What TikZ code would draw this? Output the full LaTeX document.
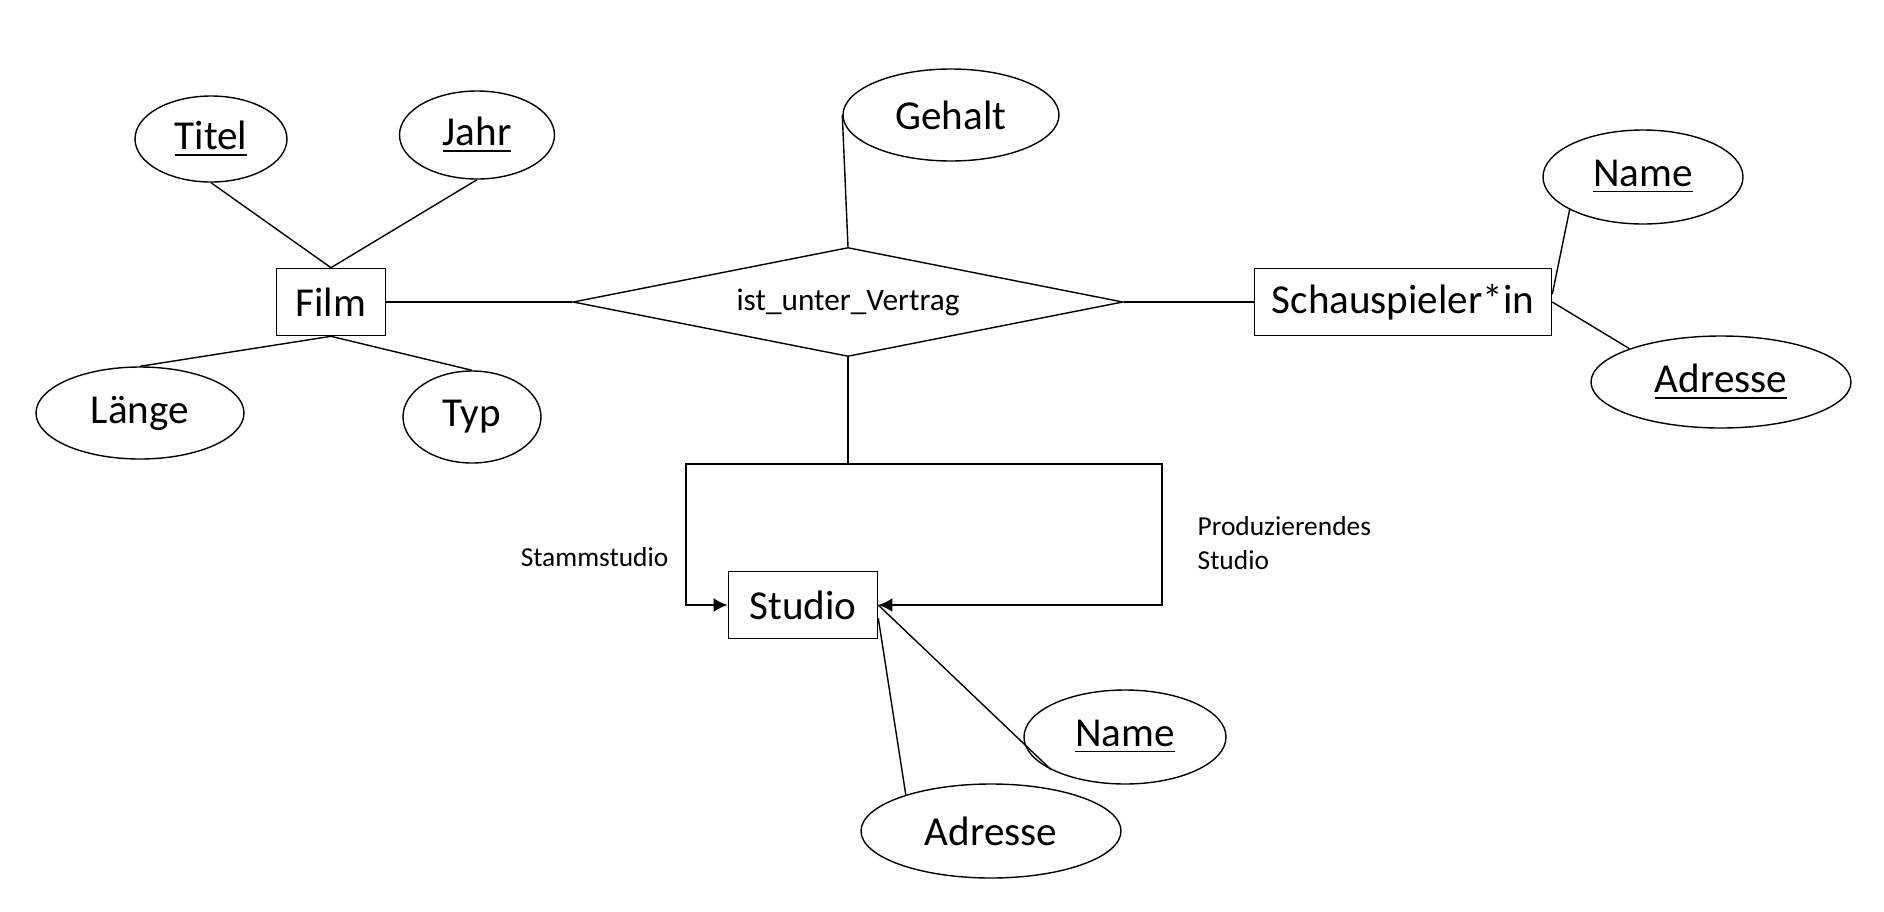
\documentclass[tikz,border=0pt]{standalone}
\usepackage{fontspec}
\setmainfont{Carlito}
\usepackage{tikz}
\usetikzlibrary{shapes.geometric, arrows.meta, positioning, calc}
\newcommand{\erfont}{\fontsize{11.7}{14}\selectfont}
\newcommand{\relfont}{\fontsize{8.9}{10.8}\selectfont}
\newcommand{\rolefont}{\fontsize{7.8}{9.6}\selectfont}
\tikzstyle{entity} = [rectangle, draw, line width=0.45pt, minimum height=0.67cm, inner sep=0pt, text centered, font=\erfont]
\tikzstyle{attr} = [ellipse, draw, line width=0.4pt, inner sep=0pt, text centered, font=\erfont]
\tikzstyle{relation} = [diamond, draw, line width=0.4pt, aspect=5, inner sep=1pt, minimum width=5.5cm, minimum height=1.09cm, font=\relfont]
\tikzstyle{link} = [line width=0.4pt]
\tikzstyle{arrow} = [line width=0.7pt, -{Latex[length=4pt,width=4pt]}]
\tikzstyle{role} = [font=\rolefont, inner sep=0pt, align=left]

\begin{document}
\begin{tikzpicture}
    \useasboundingbox (0,0) rectangle (18.84,-9.12);

    % Entities and relation
    \node[entity, minimum width=1.09cm] (film) at (3.31,-3.02) {Film};
    \node[relation] (vertrag) at (8.48,-3.02) {ist\_unter\_Vertrag};
    \node[entity, minimum width=2.97cm] (actor) at (14.03,-3.02) {Schauspieler*in};
    \node[entity, minimum width=1.49cm] (studio) at (8.03,-6.05) {Studio};

    % Attributes of Film
    \node[attr, minimum width=1.52cm, minimum height=0.86cm] (titel) at (2.11,-1.39) {\underline{Titel}};
    \node[attr, minimum width=1.55cm, minimum height=0.88cm] (jahr) at (4.77,-1.35) {\underline{Jahr}};
    \node[attr, minimum width=2.08cm, minimum height=0.92cm] (laenge) at (1.40,-4.13) {Länge};
    \node[attr, minimum width=1.38cm, minimum height=0.92cm] (typ) at (4.72,-4.17) {Typ};

    % Attribute of the relation
    \node[attr, minimum width=2.16cm, minimum height=0.92cm] (gehalt) at (9.51,-1.15) {Gehalt};

    % Attributes of Schauspieler*in
    \node[attr, minimum width=2.00cm, minimum height=0.94cm] (aname) at (16.43,-1.77) {\underline{Name}};
    \node[attr, minimum width=2.60cm, minimum height=0.92cm] (aadresse) at (17.21,-3.82) {\underline{Adresse}};

    % Attributes of Studio
    \node[attr, minimum width=2.02cm, minimum height=0.94cm] (sname) at (11.25,-7.37) {\underline{Name}};
    \node[attr, minimum width=2.60cm, minimum height=0.94cm] (sadresse) at (9.91,-8.31) {Adresse};

    % Role labels
    \node[role, anchor=east] (stamm) at (6.69,-5.57) {Stammstudio};
    \node[role, anchor=west] (prod) at (11.97,-5.43) {Produzierendes\\Studio};

    % Connections
    \draw[link] (titel.south) -- (film.north);
    \draw[link] (jahr.south) -- (film.north);
    \draw[link] (film.south) -- (laenge.north);
    \draw[link] (film.south) -- (typ.north);
    \draw[link] (film.east) -- (vertrag.west);
    \draw[link] (vertrag.east) -- (actor.west);
    \draw[link] (gehalt.west) -- (vertrag.north);
    \draw[link] (actor.3) -- (aname.204);
    \draw[link] (actor.east) -- (aadresse.160);
    \draw[link] (studio.east) -- (sname.204);
    \draw[link] (studio.350) -- (sadresse.157);

    % Loop to Studio
    \coordinate (split) at (8.48,-4.64);
    \coordinate (lcorner) at (6.86,-4.64);
    \coordinate (rcorner) at (11.62,-4.64);
    \draw[line width=0.7pt] (vertrag.south) -- (split);
    \draw[arrow] (split) -- (lcorner) |- (studio.west);
    \draw[arrow] (split) -- (rcorner) |- (studio.east);
\end{tikzpicture}
\end{document}
